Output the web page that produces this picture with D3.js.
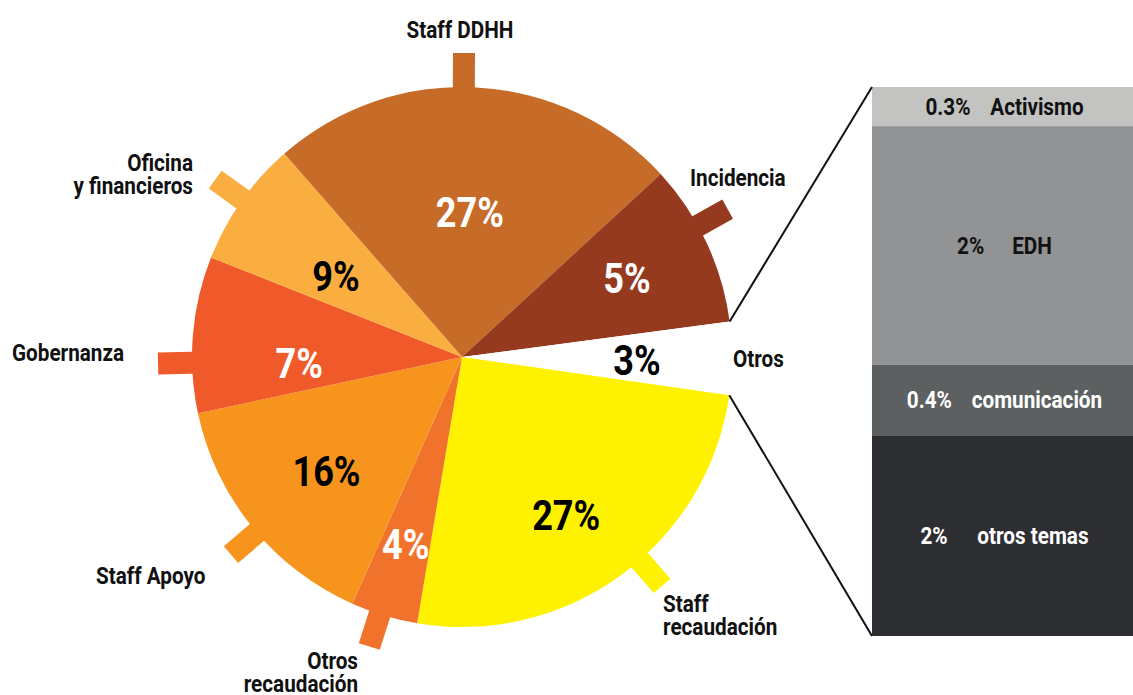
<!DOCTYPE html>
<html>
<head>
<meta charset="utf-8">
<script src="https://cdn.jsdelivr.net/npm/d3@7"></script>
<style>
  body { margin: 0; background: #fff; }
  svg text { font-family: Roboto, "Noto Sans", sans-serif; font-weight: bold; }
</style>
</head>
<body>
<svg id="chart" width="1133" height="695"></svg>
<script>
var categorias = ["Staff DDHH", "Incidencia", "Otros", "Staff recaudación", "Otros recaudación", "Staff Apoyo", "Gobernanza", "Oficina y financieros"];
var valores = [24.6, 9.75, 4.35, 25.4, 4.0, 15.0, 9.35, 7.55];
var etiquetasPct = ["27%", "5%", "3%", "27%", "4%", "16%", "7%", "9%"];

// desglose de "Otros"
var otrosCategorias = ["Activismo", "EDH", "comunicación", "otros temas"];
var otrosValores = [0.31, 1.89, 0.56, 1.59];
var otrosEtiquetas = ["0.3%", "2%", "0.4%", "2%"];

var colores = ["#c76b28", "#953a1f", "#ffffff", "#fff200", "#f1732b", "#f7941e", "#f05a2b", "#fbae40"];
var coloresPct = ["#fff", "#fff", "#000", "#000", "#fff", "#000", "#fff", "#000"];
var otrosColores = ["#c3c4c2", "#929395", "#5d6061", "#2d2e32"];
var otrosTexto = ["#111", "#111", "#fff", "#fff"];

var svg = d3.select("svg"),
    cx = 462, cy = 357, R = 270,
    g = svg.append("g").attr("transform", "translate(" + cx + "," + cy + ")");

// texto "condensado": grupo escalado en x (la tipografia original es condensada)
function texto(padre, x, y, sx) {
  return padre.append("g")
      .attr("transform", "translate(" + x + "," + y + ") scale(" + sx + ",1)")
    .append("text");
}

var rad = Math.PI / 180;
var inicio = -41.2 * rad;

var pie = d3.pie()
    .sort(null)
    .value(function(d) { return d; })
    .startAngle(inicio)
    .endAngle(inicio + 2 * Math.PI);

var arcos = pie(valores);

var arc = d3.arc().innerRadius(0).outerRadius(R);

// pestañas (ajuste en grados respecto al angulo medio)
var ajustePestana = [-2.7, -4, 0, -5, 1, -1.5, -6, 0.5];
var largoPestana = 34, anchoPestana = 22;

g.selectAll(".tab")
    .data(arcos)
  .enter().append("rect")
    .attr("class", "tab")
    .attr("x", -anchoPestana / 2)
    .attr("y", -(R + largoPestana))
    .attr("width", anchoPestana)
    .attr("height", largoPestana + 10)
    .attr("fill", function(d, i) { return colores[i] == "#ffffff" ? "none" : colores[i]; })
    .attr("transform", function(d, i) {
      var a = (d.startAngle + d.endAngle) / 2 / rad + ajustePestana[i];
      return "rotate(" + a + ")";
    });

g.selectAll(".slice")
    .data(arcos)
  .enter().append("path")
    .attr("class", "slice")
    .attr("d", arc)
    .attr("fill", function(d, i) { return colores[i]; });

// porcentajes dentro del pie
var radioPct = [145, 183, 175, 189, 195, 177, 163, 150];
var ajustePct = [0, -0.5, 0.5, 2.7, 0, -1, -7, -2.4];

arcos.forEach(function(d, i) {
  var a = (d.startAngle + d.endAngle) / 2 + ajustePct[i] * rad;
  texto(g, radioPct[i] * Math.sin(a), -radioPct[i] * Math.cos(a), 0.86)
      .attr("text-anchor", "middle")
      .attr("dy", "0.36em")
      .attr("font-size", 42)
      .attr("font-weight", 500)
      .attr("fill", coloresPct[i])
      .text(etiquetasPct[i]);
});

// etiquetas exteriores
var posEtiqueta = [
  {x: 460, y: 38, anchor: "middle", lineas: ["Staff DDHH"]},
  {x: 690, y: 186, anchor: "start", lineas: ["Incidencia"]},
  {x: 733, y: 367, anchor: "start", lineas: ["Otros"]},
  {x: 663, y: 612, anchor: "start", lineas: ["Staff", "recaudación"]},
  {x: 358, y: 669, anchor: "end", lineas: ["Otros", "recaudación"]},
  {x: 96, y: 584, anchor: "start", lineas: ["Staff Apoyo"]},
  {x: 12, y: 361, anchor: "start", lineas: ["Gobernanza"]},
  {x: 193, y: 171, anchor: "end", lineas: ["Oficina", "y financieros"]}
];

categorias.forEach(function(c, i) {
  var p = posEtiqueta[i];
  var t = texto(svg, p.x, p.y, 0.9)
      .attr("class", "etiqueta")
      .attr("font-size", 23)
      .attr("fill", "#111")
      .attr("text-anchor", p.anchor);
  p.lineas.forEach(function(l, j) {
    t.append("tspan")
      .attr("x", 0)
      .attr("dy", j == 0 ? 0 : 23)
      .text(l);
  });
});

// caja de desglose
var bx0 = 872, bx1 = 1133, by0 = 87, by1 = 636;
var y = d3.scaleLinear()
    .domain([0, d3.sum(otrosValores)])
    .range([by0, by1]);

var acum = 0;
var segs = otrosValores.map(function(v, i) {
  var s = {i: i, y0: acum, y1: acum + v};
  acum += v;
  return s;
});

var caja = svg.append("g").attr("class", "caja");

caja.selectAll("rect")
    .data(segs)
  .enter().append("rect")
    .attr("x", bx0)
    .attr("width", bx1 - bx0)
    .attr("y", function(d) { return y(d.y0); })
    .attr("height", function(d) { return y(d.y1) - y(d.y0); })
    .attr("fill", function(d) { return otrosColores[d.i]; });

var gapTexto = [22, 31, 22, 33];
segs.forEach(function(d) {
  var t = texto(caja, (bx0 + bx1) / 2 + 2, (y(d.y0) + y(d.y1)) / 2, 0.9)
      .attr("dy", "0.36em")
      .attr("text-anchor", "middle")
      .attr("font-size", 23)
      .attr("fill", otrosTexto[d.i]);
  t.append("tspan").text(otrosEtiquetas[d.i]);
  t.append("tspan").attr("dx", gapTexto[d.i]).text(otrosCategorias[d.i]);
});

// lineas guia desde la porcion "Otros"
var otros = arcos[2];
var p1 = [cx + R * Math.sin(otros.startAngle), cy - R * Math.cos(otros.startAngle)];
var p2 = [cx + R * Math.sin(otros.endAngle), cy - R * Math.cos(otros.endAngle)];

svg.append("line")
    .attr("x1", p1[0]).attr("y1", p1[1])
    .attr("x2", bx0).attr("y2", by0)
    .attr("stroke", "#111").attr("stroke-width", 2);

svg.append("line")
    .attr("x1", p2[0]).attr("y1", p2[1])
    .attr("x2", bx0).attr("y2", by1)
    .attr("stroke", "#111").attr("stroke-width", 2);
</script>
</body>
</html>
